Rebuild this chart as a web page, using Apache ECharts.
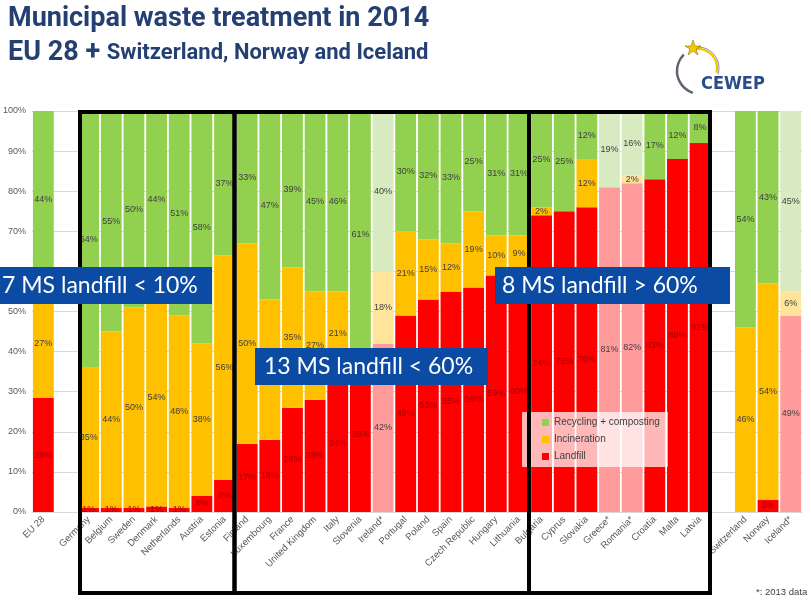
<!DOCTYPE html>
<html><head><meta charset="utf-8">
<script src="https://cdn.jsdelivr.net/npm/echarts@6/dist/echarts.min.js"></script>
<style>html,body{margin:0;padding:0;background:#fff}#c{width:811px;height:607px}</style>
</head><body><div id="c"></div>
<script>
const categories = ['EU 28','','Germany','Belgium','Sweden','Denmark','Netherlands','Austria','Estonia','Finland','Luxembourg','France','United Kingdom','Italy','Slovenia','Ireland*','Portugal','Poland','Spain','Czech Republic','Hungary','Lithuania','Bulgaria','Cyprus','Slovakia','Greece*','Romania*','Croatia','Malta','Latvia','','Switzerland','Norway','Iceland*'];
const landfill     = [28.4,null,1,1,1,1.4,1,4,8,17,18,26,28,34,38.4,42,49,53,55,56,59,60,74,75,76,81,82,83,88,92,null,0,3,49];
const incineration = [27.4,null,35,44,50,54.4,48,38,56,50,35,35,27,21,0,18,21,15,12,19,10,9,2,0,12,0,2,0,0,0,null,46,54,6];
const recycling    = [44.2,null,64,55,50,44.2,51,58,37,33,47,39,45,46,61.4,40,30,32,33,25,31,31,25,25,12,19,16,17,12,8,null,54,43,45];
const yTicks = [0,10,20,30,40,50,60,70,80,90,100];

const COLORS = {
  'Landfill': ['#ff0000', '#ff9b9b', '#a30000', '#404040'],
  'Incineration': ['#ffc000', '#ffe59c', '#404040', '#404040'],
  'Recycling + composting': ['#92d050', '#d8eac0', '#404040', '#404040']
};

function buildSeries(name, values) {
  const c = COLORS[name];
  return {
    name: name, type: 'bar', stack: 'all', barWidth: '92%',
    itemStyle: { color: c[0] },
    label: {
      show: true, position: 'inside', fontSize: 9, color: c[2],
      fontFamily: 'Liberation Sans, Arial, sans-serif',
      formatter: p => (p.value ? Math.round(p.value) + '%' : '')
    },
    data: values.map((v, i) => {
      const old = categories[i].endsWith('*');
      return { value: v, itemStyle: { color: old ? c[1] : c[0] }, label: { color: old ? c[3] : c[2] } };
    })
  };
}

const chart = echarts.init(document.getElementById('c'));
const blue = '#0b4ba3';
function tag(x, y, w, h, text, tx) {
  return { type: 'group', children: [
    { type: 'rect', z: 120, shape: { x: x, y: y, width: w, height: h }, style: { fill: blue } },
    { type: 'text', z: 121, x: tx, y: y + h / 2, style: { text: text, fill: '#fff', font: '23px Lato, "DejaVu Sans", sans-serif', textVerticalAlign: 'middle' } }
  ]};
}
chart.setOption({
  animation: false,
  backgroundColor: '#fff',
  title: [
    { text: 'Municipal waste treatment in 2014', left: 3, top: 1,
      textStyle: { color: '#243f72', fontSize: 27, fontWeight: 'bold', fontFamily: 'Roboto, sans-serif' } },
    { text: '{a|EU 28 + }{b|Switzerland, Norway and Iceland}', left: 3, top: 35,
      textStyle: { rich: {
        a: { color: '#243f72', fontSize: 27, fontWeight: 'bold', fontFamily: 'Roboto, sans-serif' },
        b: { color: '#243f72', fontSize: 22, fontWeight: 'bold', fontFamily: 'Roboto, sans-serif' } } } }
  ],
  legend: {
    data: ['Recycling + composting', 'Incineration', 'Landfill'],
    orient: 'vertical', left: 522, top: 412,
    padding: [5, 8, 5, 20], itemGap: 6, itemWidth: 7, itemHeight: 7,
    icon: 'rect', backgroundColor: 'rgba(255,255,255,0.72)',
    textStyle: { fontSize: 10, color: '#404040', lineHeight: 11, fontFamily: 'Liberation Sans, Arial, sans-serif' }
  },
  grid: { left: 31, right: 9, top: 111, bottom: 95 },
  xAxis: {
    type: 'category', data: categories,
    axisLine: { lineStyle: { color: '#d9d9d9' } }, axisTick: { show: false },
    axisLabel: { rotate: 45, fontSize: 9.5, color: '#595959', margin: 6, interval: 0,
      fontFamily: 'Liberation Sans, Arial, sans-serif' }
  },
  yAxis: {
    type: 'value', min: yTicks[0], max: yTicks[yTicks.length - 1], interval: yTicks[1] - yTicks[0],
    axisLine: { show: false }, axisTick: { show: false },
    splitLine: { lineStyle: { color: '#d9d9d9' } },
    axisLabel: { formatter: '{value}%', fontSize: 9, color: '#595959', margin: 6,
      fontFamily: 'Liberation Sans, Arial, sans-serif' }
  },
  series: [
    buildSeries('Landfill', landfill),
    buildSeries('Incineration', incineration),
    buildSeries('Recycling + composting', recycling)
  ],
  graphic: [
    { type: 'rect', z: 100, shape: { x: 80, y: 112, width: 154.5, height: 481 }, style: { fill: 'none', stroke: '#000', lineWidth: 4 } },
    { type: 'rect', z: 100, shape: { x: 234.5, y: 112, width: 294.5, height: 481 }, style: { fill: 'none', stroke: '#000', lineWidth: 4 } },
    { type: 'rect', z: 100, shape: { x: 529, y: 112, width: 181, height: 481 }, style: { fill: 'none', stroke: '#000', lineWidth: 4 } },
    tag(-2, 267, 214, 37, '7 MS landfill < 10%', 2),
    tag(255, 348, 233, 37, '13 MS landfill < 60%', 264),
    tag(495, 267, 235, 37, '8 MS landfill > 60%', 502),
    { type: 'text', z: 50, x: 756, y: 587, style: { text: '*: 2013 data', fill: '#404040', font: '9.5px "Liberation Sans", Arial, sans-serif' } },
    { type: 'arc', z: 50, shape: { cx: 700, cy: 71, r: 23, startAngle: Math.PI * 0.6, endAngle: Math.PI * 1.25, clockwise: true },
      style: { stroke: '#5f6470', lineWidth: 2.5, fill: 'none' } },
    { type: 'arc', z: 50, shape: { cx: 698, cy: 68, r: 19, startAngle: -Math.PI * 0.55, endAngle: Math.PI * 0.08, clockwise: true },
      style: { stroke: '#f2c400', lineWidth: 2.2, fill: 'none' } },
    { type: 'arc', z: 49, shape: { cx: 698, cy: 68, r: 21, startAngle: -Math.PI * 0.5, endAngle: Math.PI * 0.1, clockwise: true },
      style: { stroke: '#8a8f99', lineWidth: 1, fill: 'none' } },
    { type: 'polygon', z: 51, shape: { points: [[693,40],[695,46],[701,46],[696,49],[698,55],[693,51],[688,55],[690,49],[685,46],[691,46]] },
      style: { fill: '#f5c800', stroke: '#6f6200', lineWidth: 0.5 } },
    { type: 'text', z: 50, x: 701, y: 84, style: { text: 'CEWEP', fill: '#2b4c8c', font: 'bold 18px "DejaVu Sans Condensed", "DejaVu Sans", sans-serif', textVerticalAlign: 'middle' } }
  ]
});
</script></body></html>
